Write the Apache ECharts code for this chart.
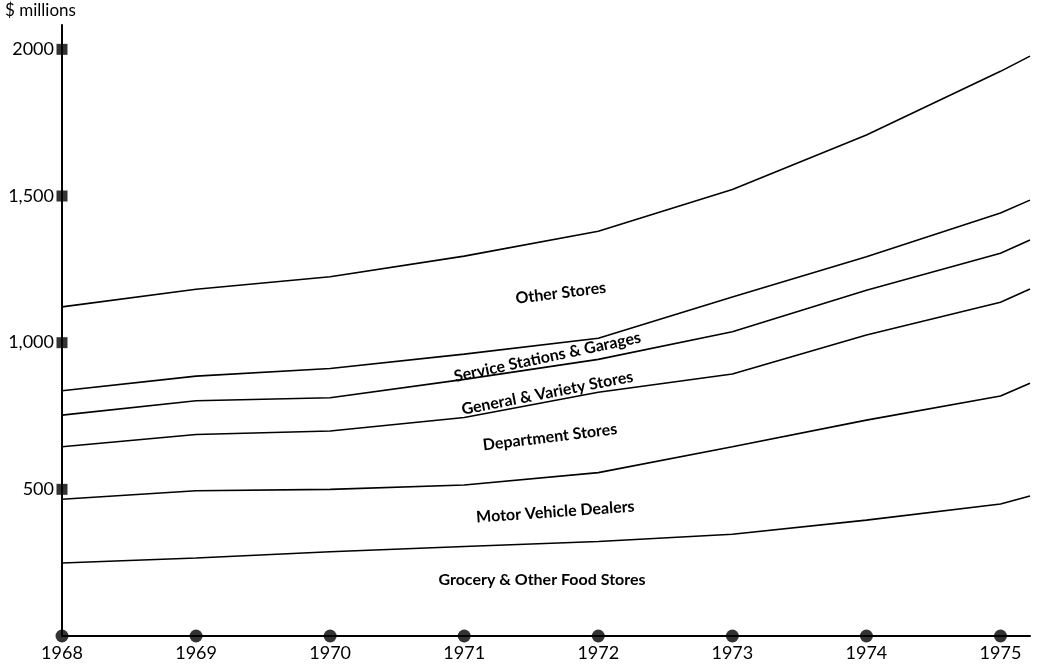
<!DOCTYPE html>
<html>
<head>
<meta charset="utf-8">
<script src="https://cdn.jsdelivr.net/npm/echarts@6/dist/echarts.min.js"></script>
<style>
  html, body { margin: 0; padding: 0; background: #fff; }
  #chart { width: 1037px; height: 667px; }
</style>
</head>
<body>
<div id="chart"></div>
<script>
// x positions of the readings (years; last one is where the lines stop)
const years = [1968, 1969, 1970, 1971, 1972, 1973, 1974, 1975, 1975.22]

// top edge of each band, cumulative, $ millions
const groceryTop = [249, 266, 287, 305, 322, 347, 395, 450, 477]
const motorTop = [466, 495, 500, 515, 557, 645, 736, 818, 862]
const departmentTop = [645, 687, 699, 745, 831, 893, 1026, 1138, 1183]
const generalTop = [753, 802, 812, 875, 943, 1037, 1179, 1305, 1350]
const serviceTop = [836, 886, 912, 961, 1015, 1156, 1293, 1442, 1486]
const otherTop = [1122, 1182, 1225, 1295, 1380, 1522, 1708, 1925, 1977]

const xTicks = [1968, 1969, 1970, 1971, 1972, 1973, 1974, 1975]
const yTicks = [500, 1000, 1500, 2000]
const yTickLabels = ['500', '1,000', '1,500', '2000']

// band names and where they sit (data coords) with their tilt
const bandNames = ['Other Stores', 'Service Stations & Garages', 'General & Variety Stores',
  'Department Stores', 'Motor Vehicle Dealers', 'Grocery & Other Food Stores']
const bandLabelAt = [[1971.72, 1169], [1971.62, 951], [1971.62, 828], [1971.64, 678], [1971.68, 423], [1971.58, 191]]
const bandTilt = [7, 12, 11, 7, 4, 0]

const chart = echarts.init(document.getElementById('chart'))

const zip = arr => years.map((y, i) => [y, arr[i]])
const lineOf = (name, arr) => ({
  name,
  type: 'line',
  data: zip(arr),
  showSymbol: false,
  silent: true,
  lineStyle: { color: '#000', width: 1.6 },
  z: 2
})

const font = 'Lato, "Open Sans", sans-serif'
const title = {
  type: 'text',
  left: 5,
  top: 2,
  style: { text: '$ millions', fontSize: 17, fontFamily: font, fill: '#000' }
}

chart.setOption({
  animation: false,
  grid: { left: 62, right: 7, top: 25, bottom: 31, containLabel: false },
  xAxis: {
    type: 'value',
    min: 1968,
    max: 1975.22,
    interval: 1,
    axisLine: { lineStyle: { color: '#000', width: 2 } },
    axisTick: { show: false },
    splitLine: { show: false },
    axisLabel: {
      margin: 8,
      color: '#000',
      fontSize: 18,
      fontFamily: font,
      formatter: v => xTicks.includes(v) ? String(v) : ''
    }
  },
  yAxis: {
    type: 'value',
    min: 0,
    max: 2083,
    interval: 500,
    axisLine: { show: true, lineStyle: { color: '#000', width: 2 } },
    axisTick: { show: false },
    splitLine: { show: false },
    axisLabel: {
      margin: 8,
      color: '#000',
      fontSize: 18,
      fontFamily: font,
      formatter: v => {
        const i = yTicks.indexOf(v)
        return i >= 0 ? yTickLabels[i] : ''
      }
    }
  },
  graphic: [title],
  series: [
    lineOf('Grocery & Other Food Stores', groceryTop),
    lineOf('Motor Vehicle Dealers', motorTop),
    lineOf('Department Stores', departmentTop),
    lineOf('General & Variety Stores', generalTop),
    lineOf('Service Stations & Garages', serviceTop),
    lineOf('Other Stores', otherTop),
    {
      type: 'scatter',
      data: yTicks.map(v => [1968, v]),
      symbol: 'rect',
      symbolSize: 11,
      itemStyle: { color: '#000' },
      clip: false,
      silent: true,
      z: 5
    },
    {
      type: 'scatter',
      data: xTicks.map(v => [v, 0]),
      symbol: 'circle',
      symbolSize: 13,
      itemStyle: { color: '#000' },
      clip: false,
      silent: true,
      z: 5
    }
  ]
})

// band names, placed via the chart's own scales
const labels = bandNames.map((name, i) => {
  const p = chart.convertToPixel({ gridIndex: 0 }, bandLabelAt[i])
  return {
    type: 'text',
    x: p[0],
    y: p[1],
    rotation: bandTilt[i] * Math.PI / 180,
    style: {
      text: name,
      fontSize: 16,
      fontWeight: 'bold',
      fontFamily: font,
      fill: '#000',
      align: 'center',
      verticalAlign: 'middle'
    }
  }
})
chart.setOption({ graphic: [title].concat(labels) })
</script>
</body>
</html>
